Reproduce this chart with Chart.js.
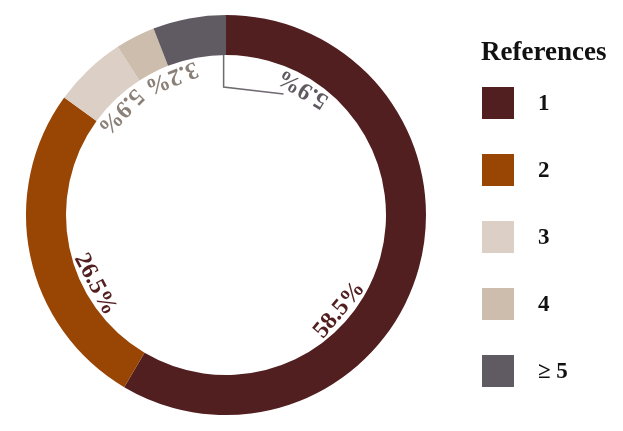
<!DOCTYPE html>
<html>
<head>
<meta charset="utf-8">
<script src="https://cdn.jsdelivr.net/npm/chart.js@4/dist/chart.umd.min.js"></script>
<style>
  html, body { margin: 0; padding: 0; background: #ffffff; }
  #wrap { width: 623px; height: 431px; }
</style>
</head>
<body>
<div id="wrap"><canvas id="c" width="623" height="431"></canvas></div>
<script>
// ---- data ----
const categories = ['1', '2', '3', '4', '\u2265 5'];
const shares = [58.5, 26.5, 5.9, 3.2, 5.9];
const percentLabels = ['58.5%', '26.5%', '5.9%', '3.2%', '5.9%'];
const legendTitle = 'References';

// ---- styles ----
const sliceColors = ['#521f21', '#994605', '#dccfc6', '#cdbdac', '#605a62'];
const labelColors = ['#521f21', '#521f21', '#8b8078', '#8b8078', '#5f5a60'];
const SERIF = '"Liberation Serif", "Times New Roman", serif';

const ringLabels = {
  id: 'ringLabels',
  afterDatasetsDraw(chart, args, opts) {
    const ctx = chart.ctx;
    const meta = chart.getDatasetMeta(0);
    ctx.save();
    meta.data.forEach((arc, i) => {
      const p = arc.getProps(['x', 'y', 'startAngle', 'endAngle', 'innerRadius'], true);
      const a = p.startAngle + opts.fractions[i] * (p.endAngle - p.startAngle);
      const r = p.innerRadius - opts.inset;
      const x = p.x + r * Math.cos(a);
      const y = p.y + r * Math.sin(a);
      if (opts.leaders[i]) {
        const L = opts.leaders[i];
        const a0 = p.startAngle + L.anchor * (p.endAngle - p.startAngle);
        const x0 = p.x + p.innerRadius * Math.cos(a0);
        const y0 = p.y + p.innerRadius * Math.sin(a0);
        const y1 = p.y - L.elbowR;
        const a2 = a - L.endShift * Math.PI / 180;
        const x2 = p.x + L.endR * Math.cos(a2);
        const y2 = p.y + L.endR * Math.sin(a2);
        ctx.beginPath();
        ctx.strokeStyle = '#6f6a70';
        ctx.lineWidth = 1.5;
        ctx.moveTo(x0, y0);
        ctx.lineTo(x0, y1);
        ctx.lineTo(x2, y2);
        ctx.stroke();
      }
      ctx.save();
      ctx.translate(x, y);
      ctx.rotate(a - Math.PI / 2);
      ctx.font = 'bold ' + opts.size + 'px ' + SERIF;
      ctx.fillStyle = labelColors[i];
      ctx.textAlign = 'center';
      ctx.textBaseline = 'middle';
      ctx.fillText(percentLabels[i], 0, 0);
      ctx.restore();
    });
    ctx.restore();
  }
};

const sideLegend = {
  id: 'sideLegend',
  afterDraw(chart, args, opts) {
    const ctx = chart.ctx;
    const ds = chart.data.datasets[0];
    ctx.save();
    ctx.fillStyle = '#111111';
    ctx.textBaseline = 'alphabetic';
    ctx.textAlign = 'left';
    ctx.font = 'bold 27px ' + SERIF;
    ctx.fillText(legendTitle, opts.x - 1, opts.titleBaseline);
    chart.data.labels.forEach((lab, i) => {
      const top = opts.firstTop + i * opts.step;
      ctx.fillStyle = ds.backgroundColor[i];
      ctx.fillRect(opts.x, top, opts.box, opts.box);
      ctx.fillStyle = '#111111';
      ctx.font = 'bold 23px ' + SERIF;
      ctx.textBaseline = 'middle';
      ctx.fillText(lab, opts.textX, top + opts.box / 2 + 1);
    });
    ctx.restore();
  }
};

new Chart(document.getElementById('c'), {
  type: 'doughnut',
  data: {
    labels: categories,
    datasets: [{
      data: shares,
      backgroundColor: sliceColors,
      borderWidth: 0,
      hoverOffset: 0
    }]
  },
  options: {
    responsive: false,
    devicePixelRatio: 1,
    animation: false,
    cutout: '80%',
    layout: { padding: { left: 26, right: 197, top: 15, bottom: 16 } },
    plugins: {
      legend: { display: false },
      tooltip: { enabled: false },
      ringLabels: {
        size: 24,
        inset: 12,
        fractions: [0.617, 0.33, 0.40, 0.97, 2.48],
        leaders: [null, null, null, null, { anchor: 0.96, elbowR: 128, endR: 134, endShift: 6 }]
      },
      sideLegend: { x: 482, textX: 538, titleBaseline: 60, firstTop: 87, step: 67, box: 32 }
    }
  },
  plugins: [ringLabels, sideLegend]
});
</script>
</body>
</html>
